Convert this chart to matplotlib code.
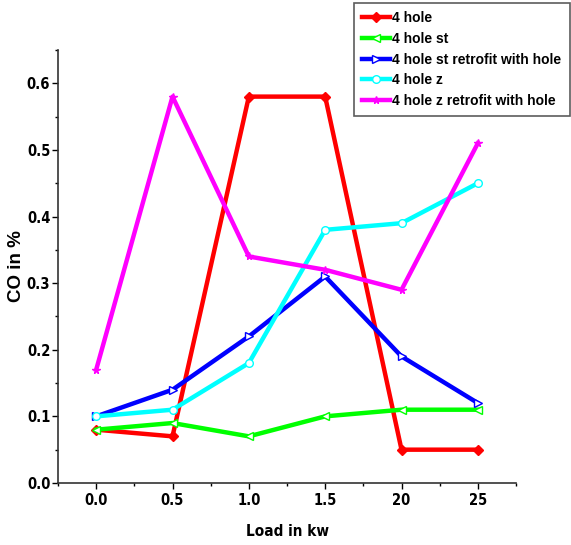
import matplotlib.pyplot as plt
from matplotlib.ticker import MultipleLocator

# Datos
load = [0.0, 0.5, 1.0, 1.5, 2.0, 2.5]
tick_labels = ['0.0', '0.5', '1.0', '1.5', '20', '25']
names = ['4 hole', '4 hole st', '4 hole st retrofit with hole',
         '4 hole z', '4 hole z retrofit with hole']
co_4hole = [0.08, 0.07, 0.58, 0.58, 0.05, 0.05]
co_4hole_st = [0.08, 0.09, 0.07, 0.10, 0.11, 0.11]
co_4hole_st_retro = [0.10, 0.14, 0.22, 0.31, 0.19, 0.12]
co_4hole_z = [0.10, 0.11, 0.18, 0.38, 0.39, 0.45]
co_4hole_z_retro = [0.17, 0.58, 0.34, 0.32, 0.29, 0.51]

series = [co_4hole, co_4hole_st, co_4hole_st_retro, co_4hole_z, co_4hole_z_retro]
colors = ['#ff0000', '#00ff00', '#0000ff', '#00ffff', '#ff00ff']
markers = ['D', '<', '>', 'o', '*']
fills = ['#ff0000', 'white', 'white', 'white', '#ff00ff']

plt.rcParams['font.family'] = ['DejaVu Sans']
plt.rcParams['font.weight'] = 'bold'
plt.rcParams['font.stretch'] = 'condensed'

fig = plt.figure(figsize=(5.71, 5.45), dpi=100)
ax = fig.add_axes([0.1016, 0.1138, 0.8021, 0.7945])

for vals, name, c, m, fc in zip(series, names, colors, markers, fills):
    ax.plot(load, vals, color=c, lw=3.2, marker=m, markersize=5.5,
            markerfacecolor=fc, markeredgecolor=c, markeredgewidth=1, label=name)

ax.set_xlim(-0.25, 2.75)
ax.set_ylim(0, 0.65)
ax.set_xticks(load)
ax.set_xticklabels(tick_labels)
ax.xaxis.set_minor_locator(MultipleLocator(0.25))
ax.yaxis.set_major_locator(MultipleLocator(0.1))
ax.yaxis.set_minor_locator(MultipleLocator(0.05))
ax.yaxis.set_major_formatter(plt.FuncFormatter(lambda v, p: f'{v:.1f}'))
ax.tick_params(which='major', direction='out', length=4, width=1, labelsize=10.5, pad=3)
ax.tick_params(axis='y', which='major', pad=1.5)
ax.tick_params(which='minor', direction='out', length=2.5, width=1)

for s in ['top', 'right']:
    ax.spines[s].set_visible(False)
for s in ['left', 'bottom']:
    ax.spines[s].set_linewidth(1.2)
    ax.spines[s].set_color('#333333')

ax.set_xlabel('Load in kw', fontsize=11, fontweight='bold')
ax.xaxis.set_label_coords(0.5, -0.095)
ax.set_ylabel('CO in %', fontsize=13.5, fontweight='bold',
              family=['Liberation Sans', 'DejaVu Sans'], fontstretch='normal')
ax.yaxis.set_label_coords(-0.072, 0.5)

leg = fig.legend(loc='upper left', bbox_to_anchor=(0.62, 0.7927, 0.378, 0.2018),
                 mode='expand',
                 prop={'family': ['Liberation Sans', 'DejaVu Sans'], 'weight': 'bold', 'size': 10},
                 frameon=True, fancybox=False, borderpad=0.6, labelspacing=0.48,
                 handlelength=2.0, handletextpad=0.1, borderaxespad=0)
leg.get_frame().set_edgecolor('#333333')
leg.get_frame().set_linewidth(1.2)

plt.savefig('out.png', dpi=100)
plt.close()
